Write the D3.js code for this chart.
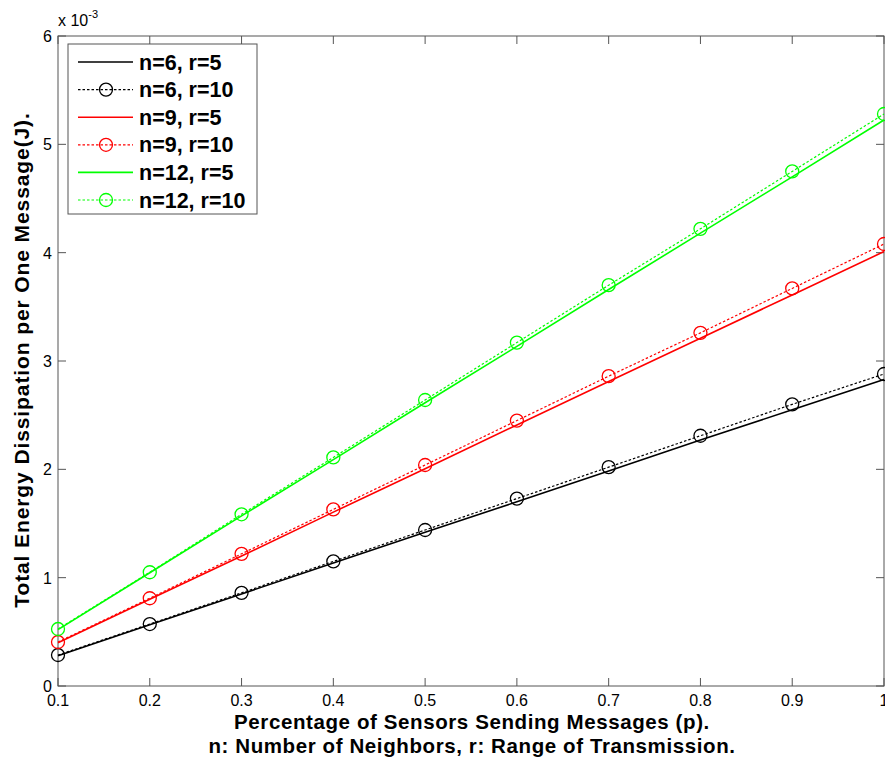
<!DOCTYPE html>
<html>
<head>
<meta charset="utf-8">
<script src="https://cdn.jsdelivr.net/npm/d3@7"></script>
<style>
  body { margin: 0; background: #fff; }
  svg { font-family: "Liberation Sans", Arial, sans-serif; }
</style>
</head>
<body>
<svg id="chart" width="885" height="767"></svg>
<script>
// data (values x 10^-3 J)
const pValues = [0.1, 0.2, 0.3, 0.4, 0.5, 0.6, 0.7, 0.8, 0.9, 1.0];
const n6r5  = [0.28, 0.565, 0.85, 1.135, 1.42, 1.70, 1.985, 2.27, 2.55, 2.83];
const n6r10 = [0.286, 0.572, 0.86, 1.15, 1.44, 1.73, 2.02, 2.31, 2.60, 2.88];
const n9r5  = [0.40, 0.80, 1.20, 1.605, 2.005, 2.41, 2.81, 3.21, 3.61, 4.01];
const n9r10 = [0.406, 0.81, 1.22, 1.63, 2.04, 2.45, 2.86, 3.26, 3.67, 4.08];
const n12r5 = [0.52, 1.045, 1.57, 2.09, 2.615, 3.135, 3.66, 4.18, 4.70, 5.225];
const n12r10 = [0.526, 1.05, 1.585, 2.11, 2.64, 3.17, 3.70, 4.22, 4.75, 5.28];
const xTicks = [0.1, 0.2, 0.3, 0.4, 0.5, 0.6, 0.7, 0.8, 0.9, 1];
const yTicks = [0, 1, 2, 3, 4, 5, 6];

const series = [
  {name: "n=6, r=5",   values: n6r5,   color: "#000000", dotted: false},
  {name: "n=6, r=10",  values: n6r10,  color: "#000000", dotted: true},
  {name: "n=9, r=5",   values: n9r5,   color: "#ff0000", dotted: false},
  {name: "n=9, r=10",  values: n9r10,  color: "#ff0000", dotted: true},
  {name: "n=12, r=5",  values: n12r5,  color: "#00ff00", dotted: false},
  {name: "n=12, r=10", values: n12r10, color: "#00ff00", dotted: true}
];

const svg = d3.select("#chart");
const plotLeft = 58, plotRight = 884, plotTop = 36, plotBottom = 686;

const x = d3.scaleLinear().domain([0.1, 1]).range([plotLeft, plotRight]);
const y = d3.scaleLinear().domain([0, 6]).range([plotBottom, plotTop]);

const axisColor = "#555";

// box around the plot
svg.append("rect")
  .attr("x", plotLeft).attr("y", plotTop)
  .attr("width", plotRight - plotLeft).attr("height", plotBottom - plotTop)
  .attr("fill", "none").attr("stroke", axisColor).attr("stroke-width", 1);

// ticks pointing inward, on all four sides
const tickLen = 8;
const tickG = svg.append("g").attr("stroke", axisColor).attr("stroke-width", 1);
xTicks.forEach(function(t) {
  tickG.append("line").attr("x1", x(t)).attr("x2", x(t)).attr("y1", plotBottom).attr("y2", plotBottom - tickLen);
  tickG.append("line").attr("x1", x(t)).attr("x2", x(t)).attr("y1", plotTop).attr("y2", plotTop + tickLen);
});
yTicks.forEach(function(t) {
  tickG.append("line").attr("x1", plotLeft).attr("x2", plotLeft + tickLen).attr("y1", y(t)).attr("y2", y(t));
  tickG.append("line").attr("x1", plotRight).attr("x2", plotRight - tickLen).attr("y1", y(t)).attr("y2", y(t));
});

// tick labels
svg.append("g").selectAll("text").data(xTicks).join("text")
  .attr("x", function(d) { return x(d); })
  .attr("y", 706)
  .attr("text-anchor", "middle")
  .attr("font-size", 16)
  .text(function(d) { return d === 1 ? "1" : d3.format(".1f")(d); });

svg.append("g").selectAll("text").data(yTicks).join("text")
  .attr("x", plotLeft - 6)
  .attr("y", function(d) { return y(d) + 6; })
  .attr("text-anchor", "end")
  .attr("font-size", 16)
  .text(function(d) { return d; });

// exponent label
const expo = svg.append("text").attr("x", 58).attr("y", 26).attr("font-size", 16);
expo.append("tspan").text("x 10");
expo.append("tspan").attr("dy", -8).attr("font-size", 11).text("-3");

// axis labels
svg.append("text")
  .attr("x", 472).attr("y", 729)
  .attr("text-anchor", "middle").attr("font-size", 20.5).attr("font-weight", "bold")
  .attr("letter-spacing", 0.6)
  .text("Percentage of Sensors Sending Messages (p).");
svg.append("text")
  .attr("x", 472).attr("y", 753)
  .attr("text-anchor", "middle").attr("font-size", 20.5).attr("font-weight", "bold")
  .attr("letter-spacing", 0.6)
  .text("n: Number of Neighbors, r: Range of Transmission.");
svg.append("text")
  .attr("transform", "translate(29,360) rotate(-90)")
  .attr("text-anchor", "middle").attr("font-size", 21).attr("font-weight", "bold")
  .attr("letter-spacing", 0.9)
  .text("Total Energy Dissipation per One Message(J).");

// lines
const line = d3.line()
  .x(function(d, i) { return x(pValues[i]); })
  .y(function(d) { return y(d); });

series.forEach(function(s) {
  svg.append("path")
    .datum(s.values)
    .attr("d", line)
    .attr("fill", "none")
    .attr("stroke", s.color)
    .attr("stroke-width", s.dotted ? 1.2 : 1.6)
    .attr("stroke-dasharray", s.dotted ? "2.5,2" : null);
  if (s.dotted) {
    svg.append("g").selectAll("circle").data(s.values).join("circle")
      .attr("cx", function(d, i) { return x(pValues[i]); })
      .attr("cy", function(d) { return y(d); })
      .attr("r", 6.5)
      .attr("fill", "none")
      .attr("stroke", s.color)
      .attr("stroke-width", 1.3);
  }
});

// legend
const legend = svg.append("g");
legend.append("rect")
  .attr("x", 68).attr("y", 44).attr("width", 189).attr("height", 170)
  .attr("fill", "#fff").attr("stroke", axisColor).attr("stroke-width", 1);

series.forEach(function(s, i) {
  const ly = 62 + i * 27.6;
  legend.append("line")
    .attr("x1", 78).attr("x2", 133).attr("y1", ly).attr("y2", ly)
    .attr("stroke", s.color)
    .attr("stroke-width", s.dotted ? 1.2 : 1.6)
    .attr("stroke-dasharray", s.dotted ? "2.5,2" : null);
  if (s.dotted) {
    legend.append("circle")
      .attr("cx", 106).attr("cy", ly).attr("r", 6.5)
      .attr("fill", "none").attr("stroke", s.color).attr("stroke-width", 1.3);
  }
  legend.append("text")
    .attr("x", 139).attr("y", ly + 7.5)
    .attr("font-size", 21.5).attr("font-weight", "bold")
    .text(s.name);
});
</script>
</body>
</html>
